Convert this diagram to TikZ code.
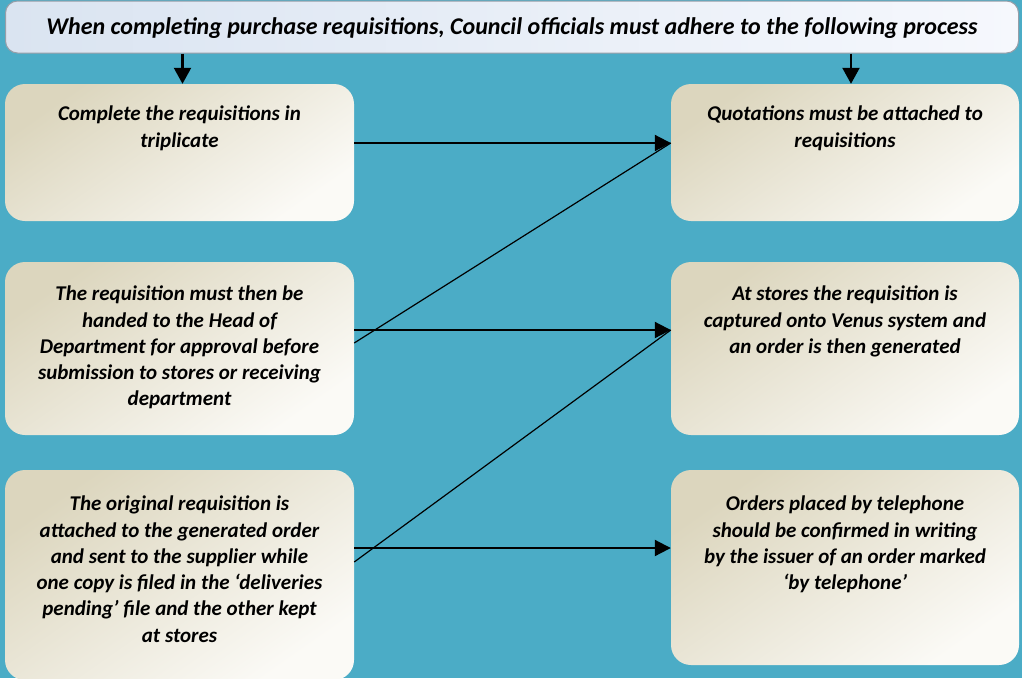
\documentclass[tikz,border=0pt]{standalone}
\usepackage{fontspec}
\setmainfont{Carlito}
\usetikzlibrary{arrows.meta}

\definecolor{bgteal}{RGB}{75,172,198}
\definecolor{boxtan}{RGB}{220,214,190}
\definecolor{boxwhite}{RGB}{251,250,246}
\definecolor{titleblue}{RGB}{218,228,241}
\definecolor{titlewhite}{RGB}{246,248,253}
\definecolor{titleedge}{RGB}{150,158,168}

\tikzset{
  stepbox/.style={rectangle, rounded corners=20pt, inner sep=0pt,
    top color=boxtan, bottom color=boxwhite, shading angle=35},
  steptext/.style={anchor=north, inner sep=0pt, align=center,
    font=\fontsize{21}{26.3}\selectfont\bfseries\itshape},
  flow/.style={line width=2pt, -{Triangle[length=16pt,width=16pt]}},
  cross/.style={line width=1.2pt},
}

\begin{document}
\begin{tikzpicture}[x=1pt, y=-1pt]
    \fill[bgteal] (0, 0) rectangle (1022, 678);
    \clip (0, 0) rectangle (1022, 678);
    % heading
    \node [rectangle, rounded corners=12pt, draw=titleedge, line width=1pt,
      left color=titleblue, right color=titlewhite, minimum width=1013pt,
      minimum height=52pt] (title) at (512, 27) {};
    \node [font=\fontsize{24}{28}\selectfont\bfseries\itshape] (titlet) at ([yshift=-1.5pt]title.center)
      {When completing purchase requisitions, Council officials must adhere to the following process};
    % left column
    \node [stepbox, minimum width=349pt, minimum height=137pt] (compl) at (179.5, 152.5) {};
    \node [steptext] (complt) at ([yshift=-22pt]compl.north)
      {Complete the requisitions in\\triplicate};
    \node [stepbox, minimum width=349pt, minimum height=173pt] (hod) at (179.5, 348.5) {};
    \node [steptext] (hodt) at ([yshift=-24pt]hod.north)
      {The requisition must then be\\handed to the Head of\\Department for approval before\\submission to stores or receiving\\department};
    \node [stepbox, minimum width=349pt, minimum height=210pt] (orig) at (179.5, 575) {};
    \node [steptext] (origt) at ([yshift=-26pt]orig.north)
      {The original requisition is\\attached to the generated order\\and sent to the supplier while\\one copy is filed in the ‘deliveries\\pending’ file and the other kept\\at stores};
    % right column
    \node [stepbox, minimum width=348pt, minimum height=137pt] (quot) at (845, 152.5) {};
    \node [steptext] (quott) at ([yshift=-22pt]quot.north)
      {Quotations must be attached to\\requisitions};
    \node [stepbox, minimum width=348pt, minimum height=173pt] (venus) at (845, 348.5) {};
    \node [steptext] (venust) at ([yshift=-24pt]venus.north)
      {At stores the requisition is\\captured onto Venus system and\\an order is then generated};
    \node [stepbox, minimum width=348pt, minimum height=195pt] (phone) at (845, 567.5) {};
    \node [steptext] (phonet) at ([yshift=-26pt]phone.north)
      {Orders placed by telephone\\should be confirmed in writing\\by the issuer of an order marked\\‘by telephone’};
    % arrows from the heading
    \draw [line width=2.2pt, -{Triangle[length=16pt,width=17pt]}] ([xshift=3pt]compl.north |- title.south) to ([xshift=3pt]compl.north);
    \draw [line width=2.2pt, -{Triangle[length=16pt,width=17pt]}] ([xshift=6pt]quot.north |- title.south) to ([xshift=6pt]quot.north);
    % straight across
    \draw [flow] ([yshift=9.5pt]compl.east) to ([yshift=9.5pt]quot.west);
    \draw [flow] ([yshift=18.5pt]hod.east) to ([yshift=18.5pt]venus.west);
    \draw [flow] ([yshift=27pt]orig.east) to ([yshift=19.5pt]phone.west);
    % crossing lines
    \draw [cross] ([yshift=5.5pt]hod.east) to ([yshift=9.5pt]quot.west);
    \draw [cross] ([yshift=13pt]orig.east) to ([yshift=18.5pt]venus.west);
\end{tikzpicture}
\end{document}
